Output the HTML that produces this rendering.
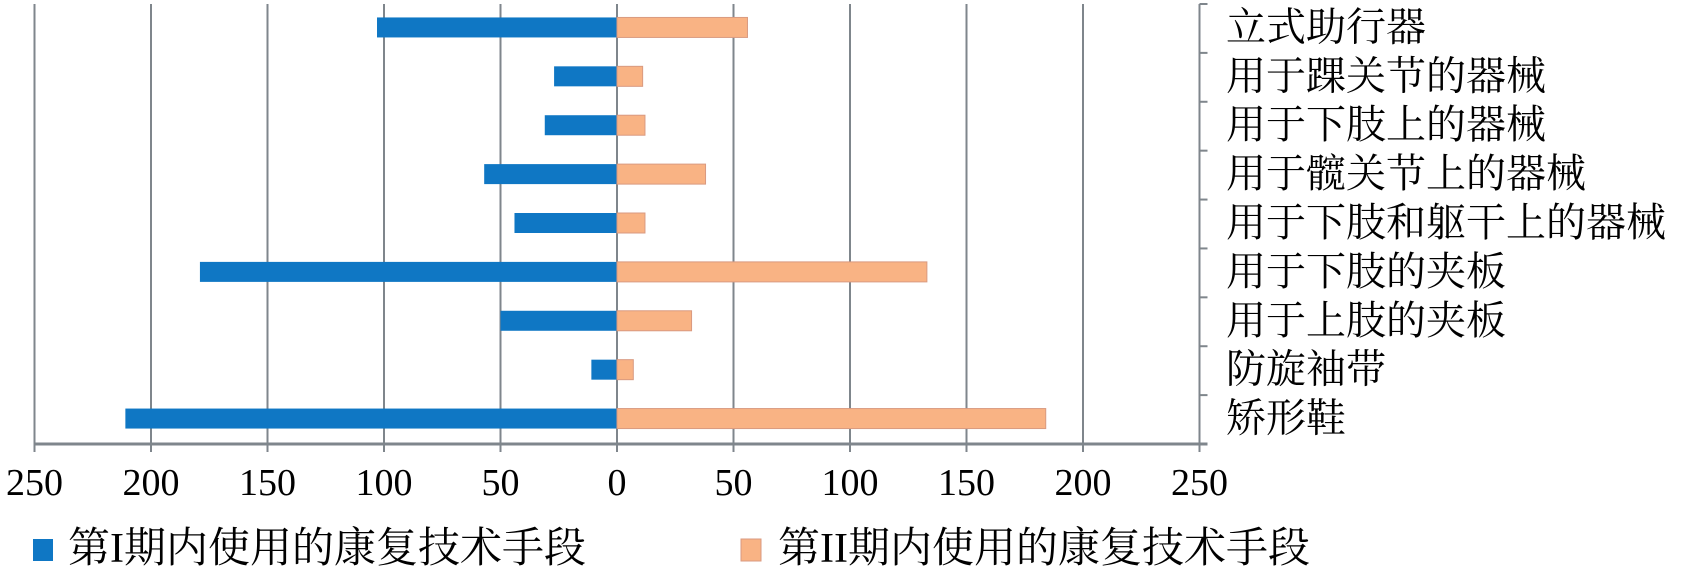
<!DOCTYPE html>
<html><head><meta charset="utf-8"><style>
body{margin:0;background:#fff;width:1698px;height:574px;overflow:hidden}
text{font-family:"Liberation Serif","Noto Serif CJK SC",serif}
</style></head><body>
<svg id="chart" width="1698" height="574" xmlns="http://www.w3.org/2000/svg">
<g id="grid"></g>
<g id="bars"></g>
<g id="axes"></g>
<g id="labels"></g>
<g id="ticks"></g>
<g>
<rect x="33" y="539" width="20" height="22" fill="#0f77c4"/>
<text x="68" y="562" font-size="42">第I期内使用的康复技术手段</text>
<rect x="741" y="539" width="20" height="22" fill="#f9b384" stroke="#d99a80" stroke-width="1"/>
<text x="778" y="562" font-size="42">第II期内使用的康复技术手段</text>
</g>
</svg>
<script>
const categories=["立式助行器","用于踝关节的器械","用于下肢上的器械","用于髋关节上的器械","用于下肢和躯干上的器械","用于下肢的夹板","用于上肢的夹板","防旋袖带","矫形鞋"];
const period1=[103,27,31,57,44,179,50,11,211];
const period2=[56,11,12,38,12,133,32,7,184];
const tickValues=[-250,-200,-150,-100,-50,0,50,100,150,200,250];
const tickLabels=["250","200","150","100","50","0","50","100","150","200","250"];
const NS="http://www.w3.org/2000/svg";
const x0=617,ppu=2.33,plotTop=4,plotBottom=444;
const band=(plotBottom-plotTop)/categories.length;
const X=v=>x0+v*ppu;
const Y=i=>plotTop+i*band;
const plotRight=X(250);
function mk(tag,attrs,parent){const e=document.createElementNS(NS,tag);for(const k in attrs)e.setAttribute(k,attrs[k]);document.getElementById(parent).appendChild(e);return e;}
tickValues.forEach((v,i)=>{
  const g=mk('line',{x1:X(v),x2:X(v),y1:plotTop,y2:plotBottom+8,stroke:'#7f868c','stroke-width':2},'grid');
  
  
  const t=mk('text',{x:X(v),y:495,'font-size':38,'text-anchor':'middle'},'ticks');
  t.textContent=tickLabels[i];
  
  
});
const ax=mk('line',{x1:X(-250),x2:plotRight+8,y1:plotBottom,y2:plotBottom,stroke:'#7f868c','stroke-width':3},'axes');


const ay=mk('line',{x1:plotRight,x2:plotRight,y1:plotTop,y2:plotBottom+8,stroke:'#7f868c','stroke-width':2},'axes');


for(let i=0;i<=categories.length;i++){
  const tk=mk('line',{x1:plotRight,x2:plotRight+8,y1:Y(i),y2:Y(i),stroke:'#7f868c','stroke-width':2},'axes');
  
  
}
categories.forEach((c,i)=>{
  const cy=Y(i)+band/2-1;
  const b1=mk('rect',{x:X(-period1[i]),y:cy-10,width:period1[i]*ppu,height:20,fill:'#0f77c4'},'bars');
  
  
  const b2=mk('rect',{x:X(0),y:cy-10,width:period2[i]*ppu,height:20,fill:'#f9b384',stroke:'#d99a80','stroke-width':1},'bars');
  
  
  const t=mk('text',{x:1226,y:cy+13,'font-size':40},'labels');
  t.textContent=c;
  
  
});
</script>
</body></html>
